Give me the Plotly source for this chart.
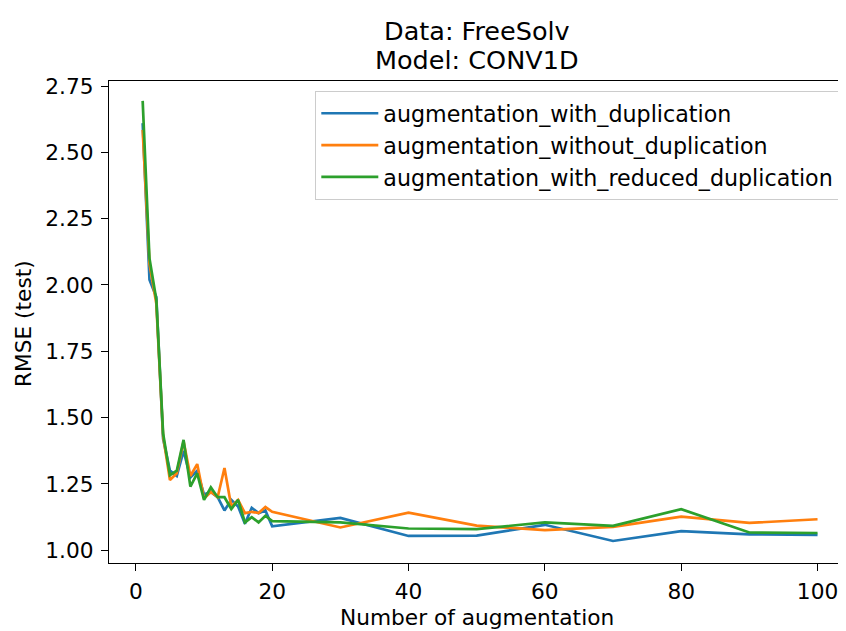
import plotly.graph_objects as go

x_aug = [1, 2, 3, 4, 5, 6, 7, 8, 9, 10, 11, 12, 13, 14, 15, 16, 17, 18, 19, 20,
         30, 40, 50, 60, 70, 80, 90, 100]

with_dup = [2.61, 2.02, 1.955, 1.42, 1.30, 1.28, 1.375, 1.275, 1.30, 1.21,
            1.22, 1.20, 1.15, 1.19, 1.165, 1.10, 1.16, 1.14, 1.15, 1.09,
            1.122, 1.054, 1.055, 1.096, 1.035, 1.072, 1.06, 1.058]

without_dup = [2.585, 2.08, 1.93, 1.43, 1.265, 1.29, 1.41, 1.28, 1.325, 1.195,
               1.22, 1.20, 1.31, 1.165, 1.19, 1.14, 1.145, 1.14, 1.163, 1.145,
               1.086, 1.142, 1.093, 1.076, 1.088, 1.127, 1.103, 1.117]

reduced_dup = [2.694, 2.10, 1.945, 1.44, 1.283, 1.30, 1.416, 1.24, 1.29, 1.19,
               1.237, 1.20, 1.20, 1.155, 1.19, 1.105, 1.125, 1.105, 1.13, 1.11,
               1.105, 1.082, 1.08, 1.105, 1.092, 1.155, 1.067, 1.065]

series_names = ["augmentation_with_duplication",
                "augmentation_without_duplication",
                "augmentation_with_reduced_duplication"]
series_values = [with_dup, without_dup, reduced_dup]
colors = ["#1f77b4", "#ff7f0e", "#2ca02c"]

FONT = "DejaVu Sans"
FS = 21.7
OFF = 8  # page body margin offset

fig = go.Figure()
for i, (name, vals, c) in enumerate(zip(series_names, series_values, colors)):
    fig.add_trace(go.Scatter(x=x_aug, y=vals, mode="lines", name=name,
                             legendgroup=f"g{i}",
                             line=dict(color=c, width=2.7)))

# target pixel positions in the 846x631 window
L, R, T, B = 108.5, 845, 81, 563
W, H = 846 - OFF, 631 - OFF
Lf, Rf, Tf, Bf = L - OFF, R - OFF, T - OFF, B - OFF

axis_common = dict(showline=True, linecolor="black", linewidth=1.3, mirror=True,
                   ticks="outside", ticklen=7, tickwidth=1.3, tickcolor="black",
                   showgrid=False, zeroline=False,
                   tickfont=dict(family=FONT, size=FS, color="black"))

pw = R - L
ph = B - T

fig.update_layout(
    width=W, height=H, autosize=False,
    margin=dict(l=Lf, r=W - Rf, t=Tf, b=H - Bf, pad=0),
    plot_bgcolor="white", paper_bgcolor="white",
    font=dict(family=FONT, size=FS, color="black"),
    xaxis=dict(range=[-3.94, 104.03], tickvals=[0, 20, 40, 60, 80, 100],
               ticklabelstandoff=2, **axis_common),
    yaxis=dict(range=[0.952, 2.769], tickvals=[1.0, 1.25, 1.5, 1.75, 2.0, 2.25, 2.5, 2.75],
               tickformat=".2f", ticklabelstandoff=3, **axis_common),
    legend=dict(x=(840 - L) / pw, y=(B - 91) / ph, xanchor="right", yanchor="top",
                bgcolor="white", bordercolor="#cccccc", borderwidth=1.3,
                itemwidth=57, tracegroupgap=0,
                font=dict(family=FONT, size=22.2, color="black")),
    showlegend=True,
)

annots = [
    dict(text="Data: FreeSolv", x=0.5, y=(B - 31) / ph, font=dict(size=25.5)),
    dict(text="Model: CONV1D", x=0.5, y=(B - 60) / ph, font=dict(size=25.5)),
    dict(text="Number of augmentation", x=(477 - L) / pw, y=(B - 617) / ph,
         font=dict(size=FS)),
    dict(text="RMSE (test)", x=(23 - L) / pw, y=(B - 323.5) / ph,
         font=dict(size=FS), textangle=-90),
]
for a in annots:
    fig.add_annotation(xref="paper", yref="paper", showarrow=False,
                       xanchor="center", yanchor="middle", **a)

fig.write_html("out.html")
